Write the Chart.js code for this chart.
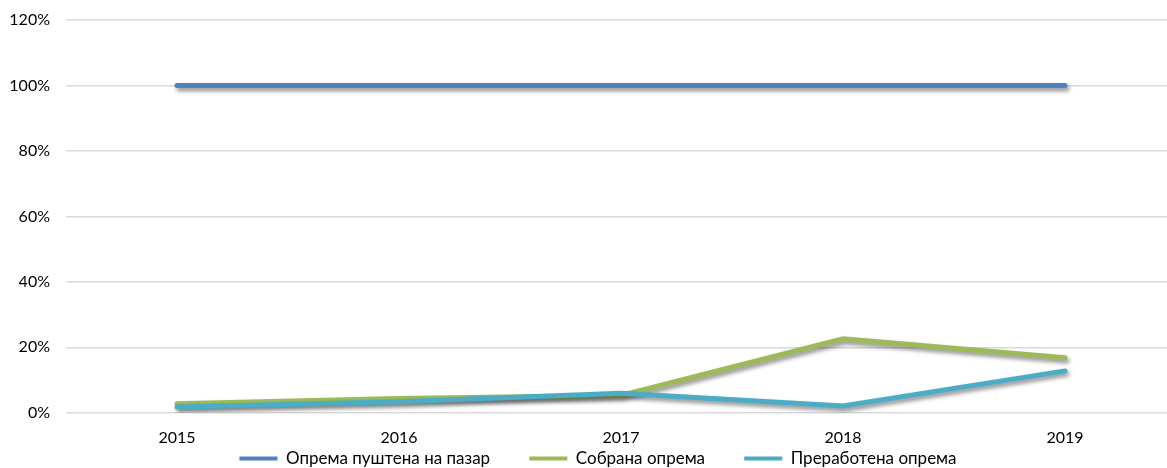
<!DOCTYPE html>
<html>
<head>
<meta charset="utf-8">
<script src="https://cdn.jsdelivr.net/npm/chart.js@4"></script>
<style>
  html, body { margin: 0; padding: 0; background: #fff; overflow: hidden; }
  #wrap { width: 1180px; height: 468px; position: relative; }
</style>
</head>
<body>
<div id="wrap"><canvas id="myChart"></canvas></div>
<script>
// chart data
const years = ['2015', '2016', '2017', '2018', '2019'];
const placedOnMarket = [100, 100, 100, 100, 100];
const collected = [2.8, 4.4, 5.3, 22.6, 16.8];
const treated = [1.8, 3.4, 6.0, 2.1, 12.8];
const seriesNames = ['Опрема пуштена на пазар', 'Собрана опрема', 'Преработена опрема'];
const seriesColors = ['#4F81BD', '#9BBB59', '#4BACC6'];

const fontFamily = "Lato, Carlito, 'Liberation Sans', sans-serif";

// soft drop shadow under the lines
const lineShadow = {
    id: 'lineShadow',
    beforeDatasetsDraw(chart) {
        const ctx = chart.ctx;
        ctx.save();
        ctx.shadowColor = 'rgba(0,0,0,0.45)';
        ctx.shadowBlur = 4;
        ctx.shadowOffsetX = 2;
        ctx.shadowOffsetY = 3;
    },
    afterDatasetsDraw(chart) {
        chart.ctx.restore();
    }
};

// nudge the legend a little to the right, like the original
const legendNudge = {
    id: 'legendNudge',
    afterLayout(chart) {
        if (chart.legend) {
            chart.legend.left += 5;
            chart.legend.right += 5;
        }
    }
};

const allSeries = [placedOnMarket, collected, treated];

new Chart(document.getElementById('myChart'), {
    type: 'line',
    data: {
        labels: years,
        datasets: allSeries.map((vals, i) => ({
            label: seriesNames[i],
            data: vals,
            borderColor: seriesColors[i],
            backgroundColor: seriesColors[i],
            borderWidth: 5,
            pointRadius: 0,
            borderCapStyle: 'round',
            tension: 0,
            order: 3 - i
        }))
    },
    options: {
        responsive: true,
        maintainAspectRatio: false,
        animation: false,
        layout: { padding: { top: 0, left: 10, right: 4, bottom: -9 } },
        plugins: {
            tooltip: { enabled: false },
            legend: {
                position: 'bottom',
                labels: {
                    color: '#000',
                    font: { family: fontFamily, size: 17 },
                    boxWidth: 38,
                    boxHeight: 4,
                    padding: 0,
                    sort: (a, b) => a.datasetIndex - b.datasetIndex,
                    generateLabels: chart => chart.data.datasets.map((ds, i) => ({
                        text: i < 2 ? ds.label + '         ' : ds.label,
                        fillStyle: ds.borderColor,
                        strokeStyle: ds.borderColor,
                        lineWidth: 0,
                        hidden: false,
                        datasetIndex: i
                    }))
                }
            }
        },
        scales: {
            x: {
                offset: true,
                grid: { display: false, drawTicks: false },
                border: { display: false },
                ticks: {
                    color: '#000',
                    padding: 15,
                    font: { family: fontFamily, size: 16 }
                },
                afterFit: scale => { scale.height -= 12; }
            },
            y: {
                min: 0,
                max: 120,
                grid: { color: '#D9D9D9', lineWidth: 1.5, drawTicks: false },
                border: { display: false },
                ticks: {
                    stepSize: 20,
                    color: '#000',
                    padding: 16,
                    font: { family: fontFamily, size: 16 },
                    callback: v => v + '%'
                },
                afterFit: scale => {
                    scale.width = 56;
                    scale.paddingTop = 20;
                }
            }
        }
    },
    plugins: [lineShadow, legendNudge]
});
</script>
</body>
</html>
